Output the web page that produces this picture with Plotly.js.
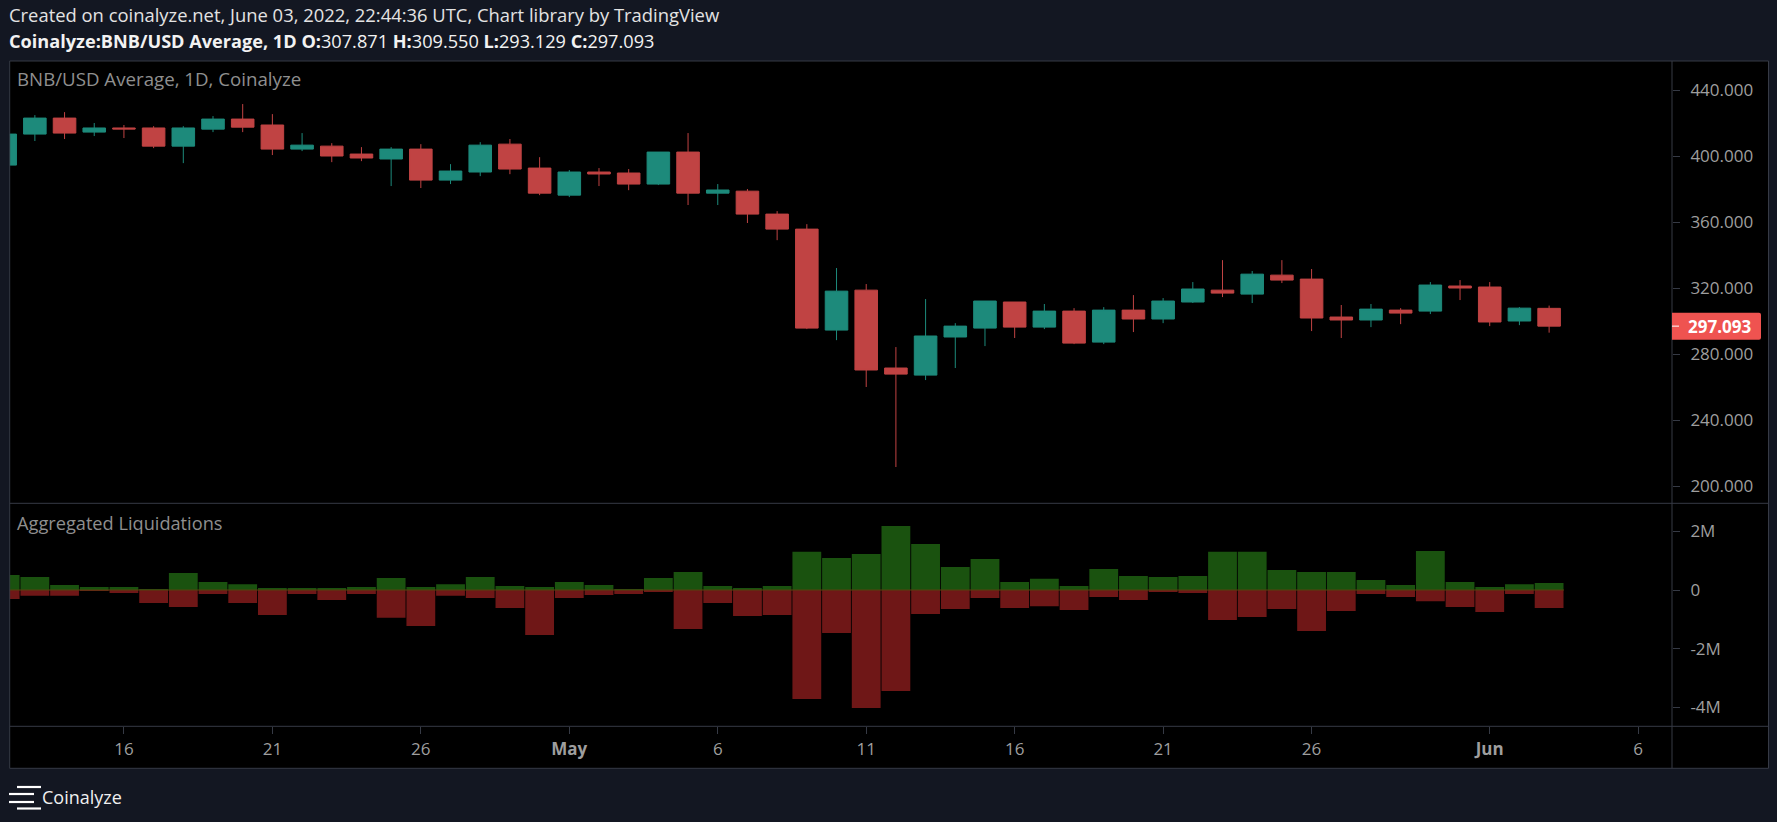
<!DOCTYPE html>
<html><head><meta charset="utf-8">
<script src="https://cdn.plot.ly/plotly-3.0.1.min.js"></script>
<style>html,body{margin:0;padding:0;background:#131722;overflow:hidden}#c{width:1777px;height:822px}</style>
</head><body><div id="c"></div>
<script>
const dates=['2022-04-12','2022-04-13','2022-04-14','2022-04-15','2022-04-16','2022-04-17','2022-04-18','2022-04-19','2022-04-20','2022-04-21','2022-04-22','2022-04-23','2022-04-24','2022-04-25','2022-04-26','2022-04-27','2022-04-28','2022-04-29','2022-04-30','2022-05-01','2022-05-02','2022-05-03','2022-05-04','2022-05-05','2022-05-06','2022-05-07','2022-05-08','2022-05-09','2022-05-10','2022-05-11','2022-05-12','2022-05-13','2022-05-14','2022-05-15','2022-05-16','2022-05-17','2022-05-18','2022-05-19','2022-05-20','2022-05-21','2022-05-22','2022-05-23','2022-05-24','2022-05-25','2022-05-26','2022-05-27','2022-05-28','2022-05-29','2022-05-30','2022-05-31','2022-06-01','2022-06-02','2022-06-03'];
const opens=[394.7,413.5,423.2,414.7,417.2,417.2,406.2,416.5,422.6,419,404.4,406.2,401.4,398.4,404.4,385.6,390.5,407.4,392.9,376.5,390.5,389.9,383.2,402.6,377.7,378.9,365,355.9,294.7,318.9,271.7,267.4,290.5,295.9,311.7,296.5,306.2,287.4,306.8,301.4,311.7,318.9,316.5,328,325.6,302.6,300.8,306.8,306.2,321.4,320.8,300.2,307.871];
const highs=[416,425,426.8,420.2,419,418.3,418.3,424.4,431.7,425.6,414.1,408,405.6,405.6,407.4,395.3,408.6,410.5,399.5,391.7,392.9,392.3,402.6,414.1,383.2,380.2,366.8,358.9,332.3,322.6,284.4,313.5,298.9,312.3,311.7,310.5,308,308.6,315.9,314.1,323.8,337.1,330.5,337.1,331.7,309.9,310.5,308,323.8,325,323.8,308.6,309.55];
const lows=[392,409.3,410.5,412.3,411.1,405,395.9,414.7,414.7,400.8,403.2,396.5,397.1,382,380.8,383.2,388,389.2,376.5,375.3,382,379.5,382.6,370.5,370.5,359.6,349.2,295.3,288.6,260.2,211.7,264.4,271.7,285,289.9,295.3,286.2,286.2,293.5,298.9,311.1,314.7,311.1,323.2,294.1,289.9,296.5,298.3,304.4,312.9,297.1,297.7,293.129];
const closes=[413.5,423.2,414.1,417.2,416.6,406.2,417.2,422.6,417.7,404.4,406.8,400.2,399,404.4,385.6,391.1,406.8,392.3,377.7,390.5,389.3,383.2,402.6,377.7,379.6,365,355.9,295.9,318.3,270.5,268,291.1,297.1,312.3,296.5,306.2,286.8,306.8,301.4,312.3,319.6,317.1,328.6,325,302,300.8,307.4,305,322,320.2,299.6,308,297.093];
const longLiq=[0.51,0.44,0.17,0.10,0.10,0.03,0.58,0.27,0.20,0.07,0.07,0.07,0.10,0.41,0.10,0.20,0.44,0.14,0.10,0.27,0.17,0.03,0.41,0.61,0.14,0.07,0.14,1.30,1.09,1.23,2.18,1.57,0.78,1.06,0.27,0.38,0.14,0.72,0.48,0.44,0.48,1.30,1.30,0.68,0.61,0.61,0.34,0.17,1.33,0.27,0.10,0.20,0.24].map(v=>v*1e6);
const shortLiq=[-0.31,-0.20,-0.20,-0.03,-0.10,-0.44,-0.58,-0.14,-0.44,-0.85,-0.14,-0.34,-0.14,-0.95,-1.23,-0.20,-0.27,-0.61,-1.53,-0.27,-0.17,-0.14,-0.07,-1.33,-0.44,-0.89,-0.85,-3.72,-1.47,-4.02,-3.44,-0.82,-0.65,-0.27,-0.61,-0.55,-0.68,-0.24,-0.34,-0.07,-0.10,-1.02,-0.92,-0.65,-1.40,-0.72,-0.14,-0.24,-0.38,-0.58,-0.75,-0.14,-0.61].map(v=>v*1e6);
const xTickVals=['2022-04-16','2022-04-21','2022-04-26','2022-05-01','2022-05-06','2022-05-11','2022-05-16','2022-05-21','2022-05-26','2022-06-01','2022-06-06'];
const xTickText=['16','21','26','<b>May</b>','6','11','16','21','26','<b>Jun</b>','6'];
const priceTicks=[200,240,280,320,360,400,440];
const liqTicks=[-4e6,-2e6,0,2e6];
const liqTickText=['-4M','-2M','0','2M'];
const lastPrice=297.093;

const W=1777,H=822,X=x=>x/W,Y=y=>1-y/H;
const FONT='"Open Sans", sans-serif';
const BORDER='#363a45',TICK='#9e9e9e',GREEN='#1d8a7b',RED='#c04343';
const L=9.7,R=1672,RR=1768.5,T=61,S=503.3,A=726.3,B=768.3;
const rect=(x0,y0,x1,y1,fill,layer)=>({type:'rect',xref:'paper',yref:'paper',x0:X(x0),x1:X(x1),y0:Y(y0),y1:Y(y1),fillcolor:fill,line:{width:0},layer:layer||'below'});
const seg=(x0,y0,x1,y1,c,w)=>({type:'line',xref:'paper',yref:'paper',x0:X(x0),x1:X(x1),y0:Y(y0),y1:Y(y1),line:{color:c,width:w||1},layer:'above'});
const label=(x,y,text,size,color)=>({xref:'paper',yref:'paper',x:X(x),y:Y(y),text,xanchor:'left',yanchor:'middle',showarrow:false,font:{family:FONT,size,color},align:'left',xshift:-1});

const traces=[
 {type:'candlestick',x:dates,open:opens,high:highs,low:lows,close:closes,xaxis:'x',yaxis:'y',whiskerwidth:0,
  increasing:{line:{color:GREEN,width:1},fillcolor:GREEN},decreasing:{line:{color:RED,width:1},fillcolor:RED},hoverinfo:'skip'},
 {type:'bar',x:dates,y:longLiq,xaxis:'x',yaxis:'y2',marker:{color:'#1a520f',line:{width:0}},hoverinfo:'skip'},
 {type:'bar',x:dates,y:shortLiq,xaxis:'x',yaxis:'y2',marker:{color:'#6f1717',line:{width:0}},hoverinfo:'skip'}
];
const layout={
 width:W,height:H,margin:{l:0,r:0,t:0,b:0},paper_bgcolor:'#131722',plot_bgcolor:'#000000',showlegend:false,
 barmode:'overlay',bargap:0.03,boxgap:0.24,boxgroupgap:0,hovermode:false,
 xaxis:{domain:[X(L),X(R)],range:['2022-04-12 03:40','2022-06-07 03:20'],type:'date',anchor:'y2',rangeslider:{visible:false},
  tickmode:'array',tickvals:xTickVals,ticktext:xTickText,ticks:'outside',ticklen:7,tickwidth:1,tickcolor:BORDER,showgrid:false,zeroline:false,showline:false,
  tickfont:{family:FONT,size:17,color:TICK},ticklabelstandoff:0},
 yaxis:{domain:[Y(S),Y(T)],range:[189.7,457.8],side:'right',anchor:'x',tickmode:'array',tickvals:priceTicks,tickformat:'.3f',
  ticks:'outside',ticklen:7,tickwidth:1,tickcolor:BORDER,showgrid:false,zeroline:false,showline:false,tickfont:{family:FONT,size:17,color:TICK},ticklabelstandoff:7},
 yaxis2:{domain:[Y(A),Y(S)],range:[-4.647e6,2.956e6],side:'right',anchor:'x',tickmode:'array',tickvals:liqTicks,ticktext:liqTickText,
  ticks:'outside',ticklen:7,tickwidth:1,tickcolor:BORDER,showgrid:false,zeroline:false,showline:false,tickfont:{family:FONT,size:17,color:TICK},ticklabelstandoff:7},
 shapes:[
  rect(L,T,RR,B,'#000000'),
  {type:'line',xref:'x',yref:'y2',x0:dates[0],x1:'2022-06-03 12:00',y0:0,y1:0,line:{color:'#57420f',width:1},layer:'above'},
  seg(L,T,RR,T,BORDER),seg(L,B,RR,B,BORDER),seg(L,T,L,B,BORDER),seg(RR,T,RR,B,BORDER),
  seg(R,T,R,B,BORDER),seg(L,S,RR,S,BORDER),seg(L,A,RR,A,BORDER),
  seg(17,787,41,787,'#ffffff',2.2),seg(9,794,34,794,'#ffffff',2.2),seg(9,802,34,802,'#ffffff',2.2),seg(17,808.5,41,808.5,'#ffffff',2.2),
  {type:'path',xref:'paper',yref:'y',xsizemode:'pixel',ysizemode:'pixel',xanchor:X(R),yanchor:lastPrice,
   path:'M0,-13.5 H87 Q89,-13.5 89,-11.5 V11.5 Q89,13.5 87,13.5 H0 Z',fillcolor:'#ef5350',line:{width:0},layer:'above'},
  {type:'line',xref:'paper',yref:'y',x0:X(R),x1:X(R+7),y0:lastPrice,y1:lastPrice,line:{color:'#ffffff',width:1},layer:'above'}
 ],
 annotations:[
  label(8,14.5,'Created on coinalyze.net, June 03, 2022, 22:44:36 UTC, Chart library by TradingView',18.4,'#e3e3e3'),
  label(8,41,'<b>Coinalyze:BNB/USD Average, 1D O:</b>307.871 <b>H:</b>309.550 <b>L:</b>293.129 <b>C:</b>297.093',18.15,'#f2f2f2'),
  label(16,78.5,'BNB/USD Average, 1D, Coinalyze',18.7,'#8f8f8f'),
  label(16,522.5,'Aggregated Liquidations',18.2,'#8f8f8f'),
  label(41,797,'Coinalyze',18,'#f0f0f0'),
  {xref:'paper',yref:'y',x:X(1688),y:lastPrice,text:'<b>'+lastPrice.toFixed(3)+'</b>',xanchor:'left',yanchor:'middle',showarrow:false,
   font:{family:FONT,size:17,color:'#ffffff'},borderpad:0,xshift:-1}
 ]
};
Plotly.newPlot('c',traces,layout,{displayModeBar:false,staticPlot:true});
</script></body></html>
